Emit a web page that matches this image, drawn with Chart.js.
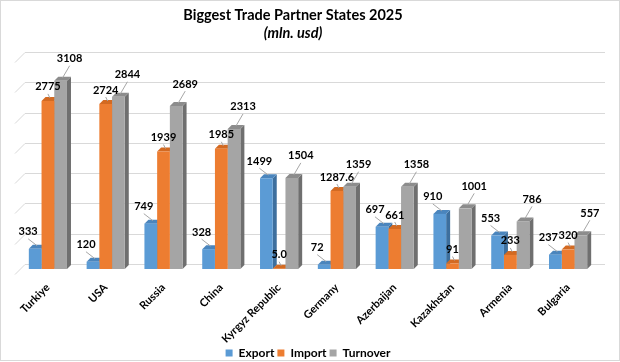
<!DOCTYPE html>
<html>
<head>
<meta charset="utf-8">
<script src="https://cdn.jsdelivr.net/npm/chart.js"></script>
<style>
html, body { margin: 0; padding: 0; background: #fff; }
</style>
</head>
<body>
<canvas id="barcanvas" width="620" height="362"></canvas>
<script>
var countries = ['Turkiye', 'USA', 'Russia', 'China', 'Kyrgyz Republic', 'Germany', 'Azerbaijan', 'Kazakhstan', 'Armenia', 'Bulgaria'];
var exportValues = [333, 120, 749, 328, 1499, 72, 697, 910, 553, 237];
var importValues = [2775, 2724, 1939, 1985, 5.0, 1287.6, 661, 91, 233, 320];
var turnoverValues = [3108, 2844, 2689, 2313, 1504, 1359, 1358, 1001, 786, 557];
var gridValues = [0, 500, 1000, 1500, 2000, 2500, 3000, 3500];

var depthX = 4, depthY = 4;

function formatValue(v) {
    // import for Kyrgyz Republic is printed as 5.0
    if (v < 10) return v.toFixed(1);
    return String(v);
}

// back wall grid + side/top faces of the 3d bars
var barFaces = {
    id: 'barFaces',
    beforeDatasetsDraw: function (chart) {
        var ctx = chart.ctx;
        var area = chart.chartArea;
        var yScale = chart.scales.y;
        ctx.save();
        ctx.strokeStyle = '#d9d9d9';
        ctx.lineWidth = 1;
        gridValues.forEach(function (v) {
            var py = Math.round(yScale.getPixelForValue(v)) + 0.5;
            ctx.beginPath();
            ctx.moveTo(area.left - 4, py + 5);
            ctx.lineTo(area.left + 6, py - 5);
            ctx.lineTo(area.right + 8, py - 5);
            ctx.stroke();
        });
        chart.data.datasets.forEach(function (ds, i) {
            var meta = chart.getDatasetMeta(i);
            meta.data.forEach(function (bar) {
                var l = bar.x - bar.width / 2;
                var r = bar.x + bar.width / 2;
                var t = bar.y;
                var b = bar.base;
                ctx.fillStyle = ds.sideColor;
                ctx.beginPath();
                ctx.moveTo(r, t);
                ctx.lineTo(r + depthX, t - depthY);
                ctx.lineTo(r + depthX, b - depthY);
                ctx.lineTo(r, b);
                ctx.closePath();
                ctx.fill();
                ctx.fillStyle = ds.topColor;
                ctx.beginPath();
                ctx.moveTo(l, t);
                ctx.lineTo(l + depthX, t - depthY);
                ctx.lineTo(r + depthX, t - depthY);
                ctx.lineTo(r, t);
                ctx.closePath();
                ctx.fill();
            });
        });
        ctx.restore();
    }
};

var valueLabels = {
    id: 'valueLabels',
    afterDatasetsDraw: function (chart) {
        var ctx = chart.ctx;
        ctx.save();
        ctx.font = 'bold 11px Lato';
        ctx.textAlign = 'center';
        ctx.textBaseline = 'middle';
        chart.data.datasets.forEach(function (ds, i) {
            var meta = chart.getDatasetMeta(i);
            meta.data.forEach(function (bar, j) {
                var lx = bar.x + ds.labelOffset[0];
                var ly = bar.y + ds.labelOffset[1];
                ctx.strokeStyle = '#a6a6a6';
                ctx.lineWidth = 1;
                ctx.beginPath();
                ctx.moveTo(bar.x + 2, bar.y - 3);
                ctx.lineTo(lx, ly + 7);
                ctx.stroke();
                ctx.fillStyle = '#000';
                ctx.fillText(formatValue(ds.data[j]), lx, ly);
            });
        });
        ctx.restore();
    }
};

var titles = {
    id: 'titles',
    beforeDraw: function (chart) {
        var ctx = chart.ctx;
        ctx.save();
        ctx.fillStyle = '#fff';
        ctx.fillRect(0, 0, chart.width, chart.height);
        ctx.restore();
    },
    afterDraw: function (chart) {
        var ctx = chart.ctx;
        ctx.save();
        ctx.fillStyle = '#000';
        ctx.textAlign = 'center';
        ctx.textBaseline = 'middle';
        ctx.font = 'bold 14.5px Lato';
        ctx.fillText('Biggest Trade Partner States 2025', 293, 15);
        ctx.font = 'italic bold 14.5px Lato';
        ctx.fillText('(mln. usd)', 293, 33);
        ctx.strokeStyle = '#d9d9d9';
        ctx.strokeRect(0.5, 0.5, chart.width - 1, chart.height - 2);
        ctx.restore();
    }
};

var barChartData = {
    labels: countries,
    datasets: [{
        label: 'Export',
        data: exportValues,
        backgroundColor: '#5b9bd5',
        sideColor: '#3d6f9e',
        topColor: '#4a85bd',
        labelOffset: [-7, -17]
    }, {
        label: 'Import',
        data: importValues,
        backgroundColor: '#ed7d31',
        sideColor: '#b3581c',
        topColor: '#d36a22',
        labelOffset: [0, -14]
    }, {
        label: 'Turnover',
        data: turnoverValues,
        backgroundColor: '#a5a5a5',
        sideColor: '#6f6f6f',
        topColor: '#8c8c8c',
        labelOffset: [9, -22]
    }]
};

var options = {
    responsive: false,
    animation: false,
    layout: {
        padding: { top: 57, left: 19, right: 23, bottom: -7 }
    },
    datasets: {
        bar: { categoryPercentage: 0.66, barPercentage: 1 }
    },
    plugins: {
        legend: {
            position: 'bottom',
            labels: {
                boxWidth: 7,
                boxHeight: 7,
                padding: 3,
                color: '#000',
                font: { family: 'Lato', weight: 'bold', size: 12 }
            }
        },
        tooltip: { enabled: false }
    },
    scales: {
        x: {
            grid: { display: false },
            border: { display: false },
            afterFit: function (scale) {
                scale.height = 75;
            },
            ticks: {
                minRotation: 45,
                maxRotation: 45,
                padding: 4,
                color: '#000',
                font: { family: 'Lato', weight: 'bold', size: 11 }
            }
        },
        y: {
            display: false,
            min: 0,
            max: 3500
        }
    }
};

var ctx1 = document.getElementById('barcanvas').getContext('2d');
window.myBar = new Chart(ctx1, {
    type: 'bar',
    data: barChartData,
    options: options,
    plugins: [barFaces, valueLabels, titles]
});
</script>
</body>
</html>
